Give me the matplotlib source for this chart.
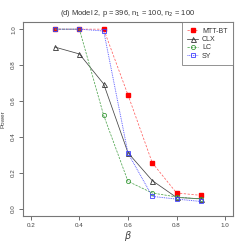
import matplotlib
matplotlib.use("Agg")
import matplotlib.pyplot as plt

plt.rcParams["font.family"] = ["Liberation Sans", "DejaVu Sans"]

beta = [0.3, 0.4, 0.5, 0.6, 0.7, 0.8, 0.9]
power_mtt = [1.0, 1.0, 1.0, 0.634, 0.256, 0.088, 0.075]
power_clx = [0.90, 0.862, 0.695, 0.312, 0.157, 0.063, 0.056]
power_lc = [1.0, 1.0, 0.52, 0.153, 0.088, 0.066, 0.054]
power_sy = [1.0, 1.0, 0.99, 0.31, 0.069, 0.054, 0.041]

x_ticks = [0.2, 0.4, 0.6, 0.8, 1.0]
y_ticks = [0.0, 0.2, 0.4, 0.6, 0.8, 1.0]

fig = plt.figure(figsize=(2.46, 2.46), dpi=100)
ax = fig.add_axes([0.0935, 0.122, 0.8535, 0.7886])

ax.plot(beta, power_mtt, color="#ff6060", ls=(0, (3, 2)), lw=0.55, marker="s",
        ms=3.2, mfc="red", mec="red", label="MTT-BT")
ax.plot(beta, power_clx, color="#444444", ls="-", lw=0.55, marker="^",
        ms=3.6, mfc="none", mec="#333333", mew=0.6, label="CLX")
ax.plot(beta, power_lc, color="#50a550", ls=(0, (3, 1.5)), lw=0.55, marker="o",
        ms=3.0, mfc="none", mec="#3a9a3a", mew=0.6, label="LC")
ax.plot(beta, power_sy, color="#5050ff", ls=(0, (1, 1)), lw=0.65, marker="s",
        ms=3.4, mfc="none", mec="#4040ff", mew=0.6, label="SY")

ax.set_xlim(0.168, 1.032)
ax.set_ylim(-0.04, 1.04)
ax.set_xticks(x_ticks)
ax.set_yticks(y_ticks)
ax.set_xticklabels([f"{v:.1f}" for v in x_ticks])
ax.set_yticklabels([f"{v:.1f}" for v in y_ticks], rotation=90, va="center")
ax.tick_params(labelsize=4.5, length=3, width=0.6, color="#555555",
               labelcolor="#444444", pad=2)
for s in ax.spines.values():
    s.set_color("#777777")
    s.set_linewidth(0.8)

ax.set_title(r"(d) Model 2, p = 396, n$_1$ = 100, n$_2$ = 100", fontsize=5.4,
             color="#333333", pad=5)
ax.set_xlabel(r"$\beta$", fontsize=7, color="#444444", labelpad=1)
ax.set_ylabel("Power", fontsize=4.5, color="#444444", labelpad=4)

leg = ax.legend(loc="upper right", fontsize=5, frameon=True, fancybox=False,
                borderaxespad=0, handlelength=1.5, handletextpad=0.6,
                labelspacing=0.2, borderpad=0.8)
leg.get_frame().set_edgecolor("#777777")
leg.get_frame().set_linewidth(0.7)
for t in leg.get_texts():
    t.set_color("#333333")

fig.savefig("out.png", dpi=100)
